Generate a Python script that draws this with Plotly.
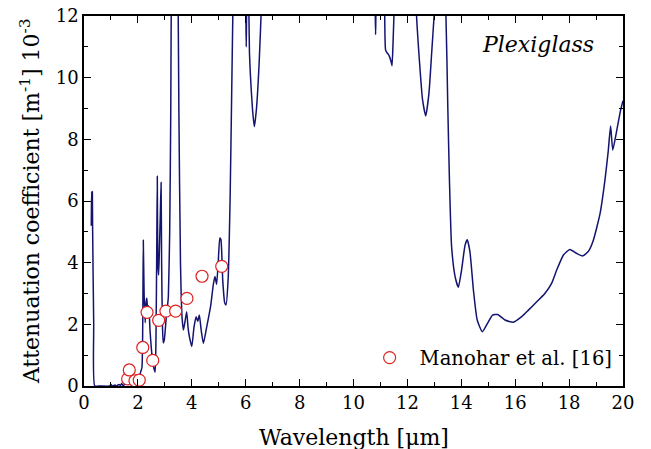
import plotly.graph_objects as go

# Measured attenuation curve (Plexiglass)
wavelength = [0.27, 0.28, 0.29, 0.30, 0.31, 0.32, 0.36, 0.40, 0.6, 0.95, 1.0, 1.05, 1.15, 1.2, 1.3, 1.35,
              1.4, 1.45, 1.5, 1.6, 1.65, 1.7, 1.8, 1.9, 1.95, 2.0, 2.05, 2.1, 2.15, 2.18, 2.2, 2.23,
              2.27, 2.3, 2.33, 2.36, 2.4, 2.45, 2.5, 2.55, 2.6, 2.64, 2.67, 2.7, 2.72, 2.74, 2.77, 2.8,
              2.83, 2.86, 2.88, 2.91, 2.94, 2.98, 3.05, 3.1, 3.13, 3.18, 3.22, 3.25, 3.4, 3.48, 3.52,
              3.58, 3.64, 3.69, 3.75, 3.81, 3.86, 3.91, 4.0, 4.08, 4.16, 4.22, 4.28, 4.35, 4.43, 4.55,
              4.7, 4.8, 4.86, 4.92, 4.98, 5.04, 5.08, 5.15, 5.22, 5.27, 5.35, 5.42, 5.48, 5.53, 5.6,
              5.9, 6.0, 6.02, 6.04, 6.08, 6.12, 6.14, 6.18, 6.25, 6.32, 6.4, 6.5, 6.59, 6.7, 10.7,
              10.8, 10.82, 10.84, 11.0, 11.15, 11.19, 11.25, 11.3, 11.35, 11.4, 11.43, 11.47, 11.52,
              11.7, 12.2, 12.34, 12.45, 12.56, 12.68, 12.8, 12.9, 12.99, 13.1, 13.3, 13.43, 13.5,
              13.56, 13.64, 13.77, 13.89, 14.01, 14.14, 14.22, 14.32, 14.45, 14.59, 14.78, 14.97,
              15.16, 15.35, 15.62, 15.93, 16.24, 16.49, 16.8, 17.1, 17.35, 17.54, 17.79, 18.03,
              18.28, 18.5, 18.71, 18.9, 19.15, 19.33, 19.45, 19.54, 19.62, 19.75, 19.9, 20.0]
attenuation = [5.2, 6.3, 6.2, 5.6, 6.3, 5.1, 2.0, 0.0, 0.0, 0.0, 0.05, 0.0, 0.03, 0.0, 0.05, 0.02,
               0.08, 0.0, 0.05, 0.1, 0.05, 0.12, 0.15, 0.25, 0.15, 0.3, 0.25, 0.45, 0.6, 2.0, 4.73, 3.0,
               2.05, 2.7, 2.85, 2.5, 2.6, 1.8, 1.2, 0.8, 0.55, 0.45, 1.5, 4.5, 6.8, 4.0, 3.6, 4.5,
               5.5, 6.6, 4.0, 2.0, 1.4, 1.5, 2.2, 2.6, 2.9, 5.0, 9.0, 14.0, 20.0, 14.0, 9.0,
               4.0, 2.2, 1.82, 2.1, 2.41, 1.9, 1.6, 1.28, 1.9, 2.25, 2.1, 2.3, 1.8, 1.38, 1.9,
               2.6, 3.3, 3.55, 3.3, 4.0, 4.8, 4.75, 3.4, 2.7, 2.63, 3.5, 6.0, 9.5, 12.5, 16.0,
               16.0, 12.5, 11.0, 12.5, 13.0, 12.0, 10.8, 10.0, 9.0, 8.41, 9.0, 10.5, 12.5, 16.0, 16.0,
               12.5, 11.4, 12.5, 15.0, 12.5, 10.9, 10.8, 10.75, 10.65, 10.5, 10.39, 11.2, 12.5,
               16.0, 16.0, 12.0, 10.5, 9.3, 8.76, 9.5, 10.8, 12.0, 14.0, 14.0, 12.0, 9.0,
               6.68, 4.52, 3.55, 3.20, 3.76, 4.57, 4.74, 4.36, 3.11, 2.14, 1.76, 2.03,
               2.30, 2.32, 2.14, 2.07, 2.25, 2.46, 2.73, 3.0, 3.33, 3.76, 4.25, 4.43,
               4.30, 4.22, 4.36, 4.73, 5.6, 6.68, 7.6, 8.43, 7.65, 8.2, 8.9, 9.25]

# Manohar et al. [16]
ref_wavelength = [1.62, 1.68, 1.89, 2.05, 2.18, 2.34, 2.55, 2.77, 3.04, 3.40, 3.82, 4.38, 5.11]
ref_attenuation = [0.23, 0.52, 0.17, 0.19, 1.25, 2.39, 0.83, 2.13, 2.43, 2.43, 2.84, 3.56, 3.88]

FONT = "DejaVu Serif"

fig = go.Figure()
fig.add_trace(go.Scatter(x=wavelength, y=attenuation, mode="lines",
                         line=dict(color="#141470", width=1.5, shape="spline", smoothing=0.5),
                         showlegend=False, hoverinfo="skip"))
fig.add_trace(go.Scatter(x=ref_wavelength, y=ref_attenuation, mode="markers",
                         name="Manohar et al. [16]",
                         marker=dict(symbol="circle", size=12, color="white",
                                     line=dict(color="#dd2222", width=1.2))))

axis_common = dict(showline=True, linecolor="black", linewidth=1.5, mirror="allticks",
                   ticks="inside", ticklen=7, tickwidth=1, tickcolor="black",
                   showgrid=False, zeroline=False, automargin=False,
                   tickfont=dict(family=FONT, size=18, color="black"))

fig.update_xaxes(range=[0, 20], dtick=2, tick0=0,
                 minor=dict(ticks="inside", ticklen=4, dtick=1, tickcolor="black"),
                 **axis_common)
fig.update_yaxes(range=[0, 12], dtick=2, tick0=0,
                 minor=dict(ticks="inside", ticklen=4, dtick=1, tickcolor="black"),
                 **axis_common)

fig.add_annotation(text="Wavelength [μm]", x=0.5, y=-0.1, xref="paper", yref="paper",
                   xanchor="center", yanchor="top", showarrow=False,
                   font=dict(family=FONT, size=22, color="black"))
fig.add_annotation(text="Attenuation coefficient [m<sup>-1</sup>] 10<sup>-3</sup>",
                   x=-0.1, y=0.5, xref="paper", yref="paper", textangle=-90,
                   xanchor="center", yanchor="middle", showarrow=False,
                   font=dict(family=FONT, size=22, color="black"))
fig.add_annotation(text="<i>Plexiglass</i>", x=0.842, y=0.924, xref="paper", yref="paper",
                   xanchor="center", yanchor="middle",
                   showarrow=False, font=dict(family=FONT, size=22, color="black"))

fig.update_layout(width=651, height=449, margin=dict(l=84, r=28, t=16, b=63),
                  plot_bgcolor="white", paper_bgcolor="white",
                  legend=dict(x=0.99, y=0.076, xanchor="right", yanchor="middle",
                              bgcolor="rgba(0,0,0,0)", itemwidth=50,
                              font=dict(family=FONT, size=19.6, color="black")))

# remove the default 8 px page margin so the figure sits at the window's top-left corner
fig.write_html("out.html", config={"displayModeBar": False},
               post_script="document.body.style.margin='0';")
